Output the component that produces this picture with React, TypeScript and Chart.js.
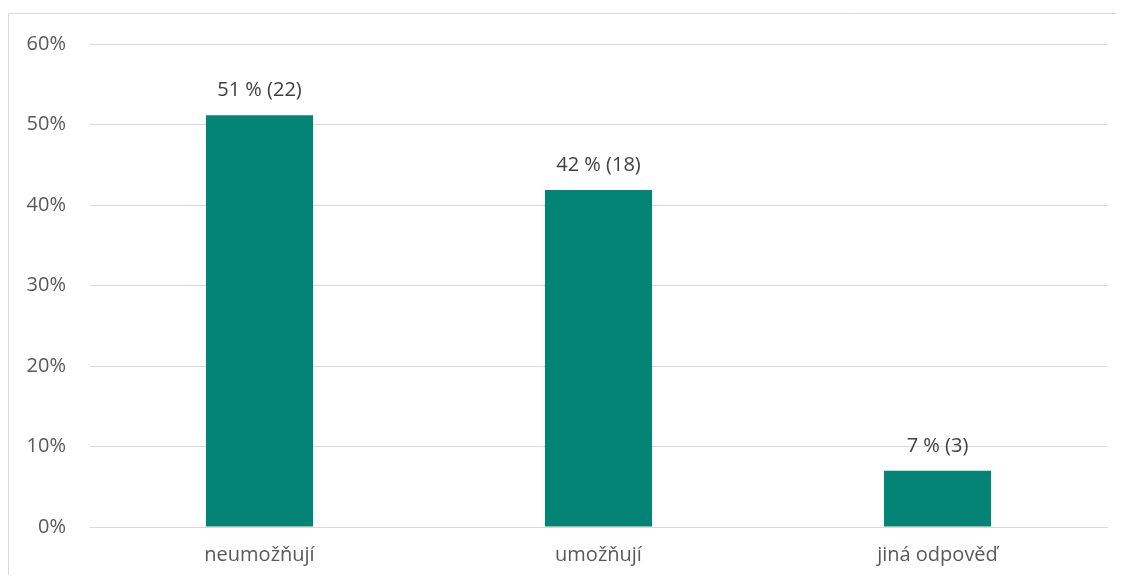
import React, { useEffect, useRef } from "react";
import { Chart, registerables } from "chart.js";

Chart.register(...registerables);

const categories = ["neumožňují", "umožňují", "jiná odpověď"];
const percentValues = [51.16, 41.86, 6.98];
const counts = [22, 18, 3];
const yTicks = [0, 10, 20, 30, 40, 50, 60];

const FONT = "'Open Sans', 'DejaVu Sans', sans-serif";
const FS = 20;

export default function App() {
  const ref = useRef<HTMLCanvasElement | null>(null);
  useEffect(() => {
    document.documentElement.style.overflow = "hidden";
    document.body.style.overflow = "hidden";
    const canvas = ref.current!;
    const borderPlugin = {
      id: "frameBorder",
      beforeDraw(chart: any) {
        const ctx = chart.ctx;
        ctx.save();
        ctx.strokeStyle = "#d9d9d9";
        ctx.lineWidth = 1;
        ctx.beginPath();
        ctx.moveTo(0.5, chart.height);
        ctx.lineTo(0.5, 5.5);
        ctx.lineTo(chart.width, 5.5);
        ctx.stroke();
        ctx.restore();
      },
    };
    const labelPlugin = {
      id: "valueLabels",
      afterDatasetsDraw(chart: any) {
        const ctx = chart.ctx;
        const meta = chart.getDatasetMeta(0);
        ctx.save();
        ctx.font = `${FS}px ${FONT}`;
        ctx.fillStyle = "#404040";
        ctx.textAlign = "center";
        ctx.textBaseline = "middle";
        meta.data.forEach((bar: any, i: number) => {
          const txt = `${Math.round(percentValues[i])} % (${counts[i]})`;
          ctx.fillText(txt, bar.x, bar.y - 25);
        });
        ctx.restore();
      },
    };
    const chart = new Chart(canvas, {
      type: "bar",
      data: {
        labels: categories,
        datasets: [
          {
            data: percentValues,
            backgroundColor: "#038474",
            borderWidth: 0,
            categoryPercentage: 1,
            barPercentage: 0.316,
          },
        ],
      },
      options: {
        responsive: false,
        animation: false,
        layout: { padding: { top: 35, right: 31, left: 0, bottom: 0 } },
        plugins: {
          legend: { display: false },
          tooltip: { enabled: false },
        },
        scales: {
          x: {
            grid: { display: false, drawTicks: false },
            border: { display: true, color: "#d9d9d9" },
            ticks: {
              color: "#595959",
              font: { family: FONT, size: FS },
              padding: 16,
            },
            afterFit: (s: any) => {
              s.height = 48;
            },
          },
          y: {
            min: 0,
            max: 60,
            afterBuildTicks: (s: any) => {
              s.ticks = yTicks.map((v) => ({ value: v }));
            },
            grid: { color: "#d9d9d9", drawTicks: false, lineWidth: 1 },
            border: { display: false },
            ticks: {
              color: "#595959",
              font: { family: FONT, size: FS },
              padding: 24,
              callback: (v: any) => `${v}%`,
            },
            afterFit: (s: any) => {
              s.width = 82;
            },
          },
        },
      },
      plugins: [borderPlugin, labelPlugin],
    });
    return () => chart.destroy();
  }, []);
  return (
    <canvas
      ref={ref}
      width={1130}
      height={567}
      style={{ display: "block", width: 1130, height: 567 }}
    />
  );
}
